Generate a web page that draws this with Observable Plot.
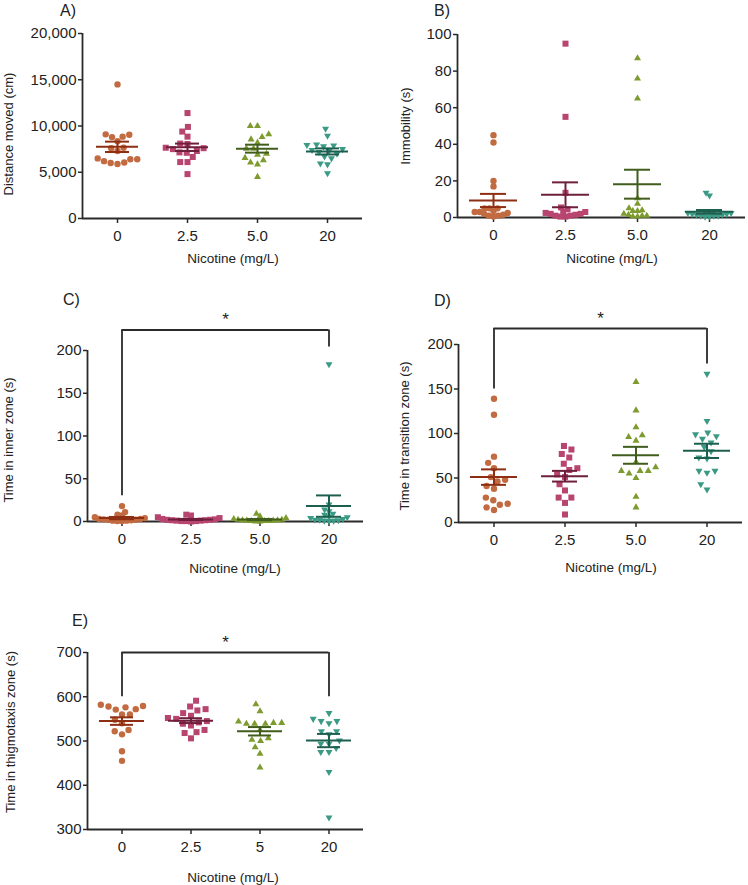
<!DOCTYPE html>
<html><head><meta charset="utf-8">
<script src="https://cdn.jsdelivr.net/npm/d3@7"></script>
<script src="https://cdn.jsdelivr.net/npm/@observablehq/plot@0.6"></script>
<style>
body{margin:0;background:#fff;}
#root{position:relative;width:748px;height:885px;overflow:hidden;font-family:"Liberation Sans",Arial,sans-serif;color:#222;background:#fff;}
.panel{position:absolute;}
.panel svg{overflow:visible;}
.xl{position:absolute;white-space:nowrap;transform:translate(-50%,-50%);font-size:13.5px;}
.yl{position:absolute;white-space:nowrap;transform:translate(-50%,-50%) rotate(-90deg);font-size:13px;}
.tt{position:absolute;white-space:nowrap;transform:translate(0,-50%);font-size:16px;}
</style></head><body><div id="root"></div>
<script>
// ---- categories ----
const groupKeys = ["0", "2.5", "5.0", "20"];
const tickLabelsABCD = ["0", "2.5", "5.0", "20"];
const tickLabelsE = ["0", "2.5", "5", "20"];
const xTitle = "Nicotine (mg/L)";

// ---- A) Distance moved (cm) ----
const distanceMoved = [
  [14500, 9050, 8800, 8850, 9100, 8350, 7650, 7600, 7300, 6500, 6400, 6200, 6000, 5900, 6050, 6400],
  [11400, 9900, 9400, 8850, 8100, 8050, 7600, 7300, 7150, 7500, 7650, 7100, 6650, 6100, 6100, 4800],
  [10000, 10000, 9100, 8800, 8200, 8550, 7550, 7550, 7000, 6900, 6550, 6050, 5850, 6300, 4500],
  [9700, 8950, 7900, 8000, 7950, 7800, 7500, 7400, 7300, 7200, 7000, 6700, 6500, 5950, 5850, 4900]
];
const distanceMean = [7750, 7700, 7550, 7250];
const distanceSem = [560, 400, 430, 330];
const distanceTicks = [0, 5000, 10000, 15000, 20000];

// ---- B) Immobility (s) ----
const immobility = [
  [45, 41, 20, 17, 5, 5, 5, 3.5, 3, 2.5, 1.5, 1, 0.5, 1, 2, 3],
  [95, 55, 13.5, 5.5, 4.5, 3, 3, 2.5, 2, 1.5, 1, 0.5, 0.5, 1, 2],
  [87, 76, 65, 10.5, 7.5, 5, 4, 3.5, 3.5, 2, 1.5, 1, 0.5, 0.5, 1],
  [13.5, 12, 3.5, 3, 3, 2.5, 2.5, 2, 2, 1.5, 1.5, 1, 1, 0.5, 0.5, 1]
];
const immobilityMean = [9.3, 12.4, 18.2, 3.1];
const immobilitySem = [3.6, 6.8, 7.9, 1.0];
const immobilityTicks = [0, 20, 40, 60, 80, 100];

// ---- C) Time in inner zone (s) ----
const innerZone = [
  [18, 11, 8, 7, 5, 4, 3, 2.5, 2, 1.5, 1, 0.5, 0.5, 1, 2, 3],
  [8, 7, 5, 4, 3, 2.5, 2, 1.5, 1, 0.5, 0.5, 0, 0.5, 1, 1.5, 2],
  [9, 6, 4, 3, 2, 1.5, 1, 0.5, 0.5, 0, 0, 0.5, 1, 1.5, 2],
  [184, 20, 14, 12, 9, 8, 6, 5, 4, 3, 2, 1.5, 1, 0.5, 1, 2]
];
const innerMean = [4, 2.4, 2.2, 18];
const innerSem = [1.3, 0.6, 0.7, 12.5];
const innerTicks = [0, 50, 100, 150, 200];

// ---- D) Time in transition zone (s) ----
const transitionZone = [
  [139, 121, 74, 67, 61, 51, 48, 46, 41, 38, 28, 25, 21, 20, 17, 14],
  [86, 82, 77, 73, 66, 61, 59, 51, 54, 43, 36, 28, 28, 22, 9],
  [158, 126, 107, 98, 96, 92, 68, 58, 58, 58, 62, 50, 55, 29, 17],
  [167, 114, 101, 99, 97, 94, 90, 85, 80, 73, 72, 58, 56, 58, 43, 37]
];
const transitionMean = [51, 52, 75.5, 80.5];
const transitionSem = [8.7, 6, 9.5, 8];
const transitionTicks = [0, 50, 100, 150, 200];

// ---- E) Time in thigmotaxis zone (s) ----
const thigmotaxis = [
  [582, 578, 572, 571, 576, 579, 560, 560, 548, 540, 522, 515, 525, 477, 455],
  [591, 578, 572, 569, 563, 557, 552, 550, 539, 542, 535, 520, 518, 525, 506, 545],
  [583, 567, 541, 539, 539, 539, 541, 544, 525, 506, 500, 503, 486, 471, 440],
  [563, 545, 545, 550, 540, 522, 522, 515, 501, 494, 494, 475, 484, 475, 430, 327]
];
const thigmoMean = [545, 546, 522, 501];
const thigmoSem = [8.5, 5.5, 9.5, 15];
const thigmoTicks = [300, 400, 500, 600, 700];

// ---- significance brackets (value units) ----
const bracketC = {top: 224, left: 30, right: 204, star: 236};
const bracketD = {top: 218, left: 150, right: 178, star: 229};
const bracketE = {top: 700, left: 600, right: 600, star: 722};

// ---- styles ----
const fills = ["#c26a40", "#b8456f", "#7d9b2f", "#3a9a85"];
const meanColors = ["#8e2e12", "#6e1f3b", "#405d1e", "#1d5f4f"];
const AX = "#2a2a2a";
const triDown = {
  draw(ctx, size) {
    const s3 = Math.sqrt(3);
    const y = -Math.sqrt(size / (s3 * 3));
    ctx.moveTo(0, -y * 2);
    ctx.lineTo(-s3 * y, y);
    ctx.lineTo(s3 * y, y);
    ctx.closePath();
  }
};
const symbols = ["circle", "square", "triangle", triDown];
const radii = [3.2, 3.4, 2.6, 2.6];

const root = document.getElementById("root");

function addText(cls, text, x, y) {
  const d = document.createElement("div");
  d.className = cls;
  d.textContent = text;
  d.style.left = x + "px";
  d.style.top = y + "px";
  root.appendChild(d);
}

function panel(cfg) {
  const {values, means, sems, ticks, fmt, labels, geom, bracket, title, yTitle, titlePos, xTitlePos, yTitlePos, pads} = cfg;
  const yDomain = [ticks[0], ticks[ticks.length - 1]];
  const stats = means.map((m, gi) => ({g: groupKeys[gi], gi, mean: m, lo: m - sems[gi], hi: m + sems[gi]}));
  const marks = [];
  marks.push(Plot.ruleY([yDomain[0]], {stroke: AX, strokeWidth: 1.8}));
  marks.push(Plot.ruleX([{g: groupKeys[0]}], {fx: "g", x: () => -1, y1: () => yDomain[0], y2: () => yDomain[1], stroke: AX, strokeWidth: 1.8}));
  marks.push(Plot.axisY({ticks, tickFormat: fmt, tickSize: 4, tickPadding: 2, fontSize: 15, label: null, stroke: AX, strokeWidth: 1.5, color: "#222"}));
  marks.push(Plot.axisFx({anchor: "bottom", tickSize: 5, tickPadding: 7, fontSize: 15, label: null, stroke: AX, strokeWidth: 1.5,
    tickFormat: (d) => labels[groupKeys.indexOf(d)]}));
  values.forEach((vs, gi) => {
    const rows = vs.slice().sort((a, b) => a - b).map((v) => ({g: groupKeys[gi], v}));
    marks.push(Plot.dot(rows, Plot.dodgeX({anchor: "middle", padding: pads[gi]},
      {fx: "g", y: "v", r: radii[gi], symbol: symbols[gi], fill: fills[gi], stroke: "none"})));
  });
  stats.forEach((s, gi) => {
    const c = meanColors[gi];
    marks.push(Plot.ruleX([s], {fx: "g", x: () => 0, y1: "lo", y2: "hi", stroke: c, strokeWidth: 2}));
    marks.push(Plot.tickY([s], {fx: "g", y: "hi", stroke: c, strokeWidth: 2, insetLeft: cfg.capInset, insetRight: cfg.capInset}));
    marks.push(Plot.tickY([s], {fx: "g", y: "lo", stroke: c, strokeWidth: 2, insetLeft: cfg.capInset, insetRight: cfg.capInset}));
    marks.push(Plot.tickY([s], {fx: "g", y: "mean", stroke: c, strokeWidth: 2, insetLeft: cfg.meanInset, insetRight: cfg.meanInset}));
  });
  if (bracket) {
    const n = groupKeys.length;
    marks.push(Plot.ruleX([{g: groupKeys[0], y1: bracket.left}, {g: groupKeys[n - 1], y1: bracket.right}],
      {fx: "g", x: () => 0, y1: "y1", y2: () => bracket.top, stroke: AX, strokeWidth: 1.8}));
    const spans = groupKeys.map((g, i) => ({g, x1: i === 0 ? 0 : -1, x2: i === n - 1 ? 0 : 1}));
    marks.push(Plot.ruleY(spans, {fx: "g", x1: "x1", x2: "x2", y: () => bracket.top, stroke: AX, strokeWidth: 1.8}));
    marks.push(Plot.text([{g: groupKeys[1]}], {fx: "g", x: () => 1, y: () => bracket.star, text: () => "*", fontSize: 17, fill: "#222"}));
  }
  const svg = Plot.plot({
    width: geom.W, height: geom.H,
    marginLeft: geom.mL, marginRight: geom.mR, marginTop: geom.mT, marginBottom: geom.mB,
    style: {fontFamily: '"Liberation Sans", Arial, sans-serif', fontSize: "15px", color: "#222", background: "transparent", overflow: "visible"},
    fx: {domain: groupKeys, padding: 0, label: null},
    x: {domain: [-1, 1], axis: null},
    y: {domain: yDomain, label: null},
    marks
  });
  const wrap = document.createElement("div");
  wrap.className = "panel";
  wrap.style.left = geom.left + "px";
  wrap.style.top = geom.top + "px";
  wrap.appendChild(svg);
  root.appendChild(wrap);
  addText("tt", title, titlePos[0], titlePos[1]);
  addText("xl", xTitle, xTitlePos[0], xTitlePos[1]);
  addText("yl", yTitle, yTitlePos[0], yTitlePos[1]);
}

panel({values: distanceMoved, means: distanceMean, sems: distanceSem, ticks: distanceTicks, fmt: d3.format(","),
  labels: tickLabelsABCD, title: "A)", yTitle: "Distance moved (cm)", pads: [0.5, 0.5, 2, 2],
  geom: {left: 0, top: 0, W: 374, H: 270, mL: 81, mR: 11, mT: 33, mB: 52},
  titlePos: [60, 11], xTitlePos: [233, 258], yTitlePos: [8, 134], meanInset: 14, capInset: 23});

panel({values: immobility, means: immobilityMean, sems: immobilitySem, ticks: immobilityTicks, fmt: d3.format("d"),
  labels: tickLabelsABCD, title: "B)", yTitle: "Immobility (s)", pads: [-1.5, -1.7, -0.5, -0.8],
  geom: {left: 374, top: 0, W: 374, H: 270, mL: 81, mR: 2, mT: 34, mB: 53},
  titlePos: [434, 11], xTitlePos: [612, 258], yTitlePos: [405, 126], meanInset: 12, capInset: 23});

panel({values: innerZone, means: innerMean, sems: innerSem, ticks: innerTicks, fmt: d3.format("d"),
  labels: tickLabelsABCD, title: "C)", yTitle: "Time in inner zone (s)", bracket: bracketC, pads: [-1.8, -2, -0.8, -0.5],
  geom: {left: 0, top: 290, W: 374, H: 300, mL: 86, mR: 11, mT: 60, mB: 69},
  titlePos: [63, 300], xTitlePos: [235, 568], yTitlePos: [8, 440], meanInset: 12, capInset: 22});

panel({values: transitionZone, means: transitionMean, sems: transitionSem, ticks: transitionTicks, fmt: d3.format("d"),
  labels: tickLabelsABCD, title: "D)", yTitle: "Time in transition zone (s)", bracket: bracketD, pads: [1.5, 1.5, 3, 3],
  geom: {left: 374, top: 290, W: 374, H: 300, mL: 84, mR: 6, mT: 54, mB: 68},
  titlePos: [434, 301], xTitlePos: [611, 567], yTitlePos: [404, 436], meanInset: 12, capInset: 23});

panel({values: thigmotaxis, means: thigmoMean, sems: thigmoSem, ticks: thigmoTicks, fmt: d3.format("d"),
  labels: tickLabelsE, title: "E)", yTitle: "Time in thigmotaxis zone (s)", bracket: bracketE, pads: [1.5, 1.5, 3, 3],
  geom: {left: 0, top: 600, W: 374, H: 285, mL: 87, mR: 11, mT: 52, mB: 56},
  titlePos: [72, 621], xTitlePos: [233, 877], yTitlePos: [10, 732], meanInset: 12, capInset: 23});
</script>
</body></html>
